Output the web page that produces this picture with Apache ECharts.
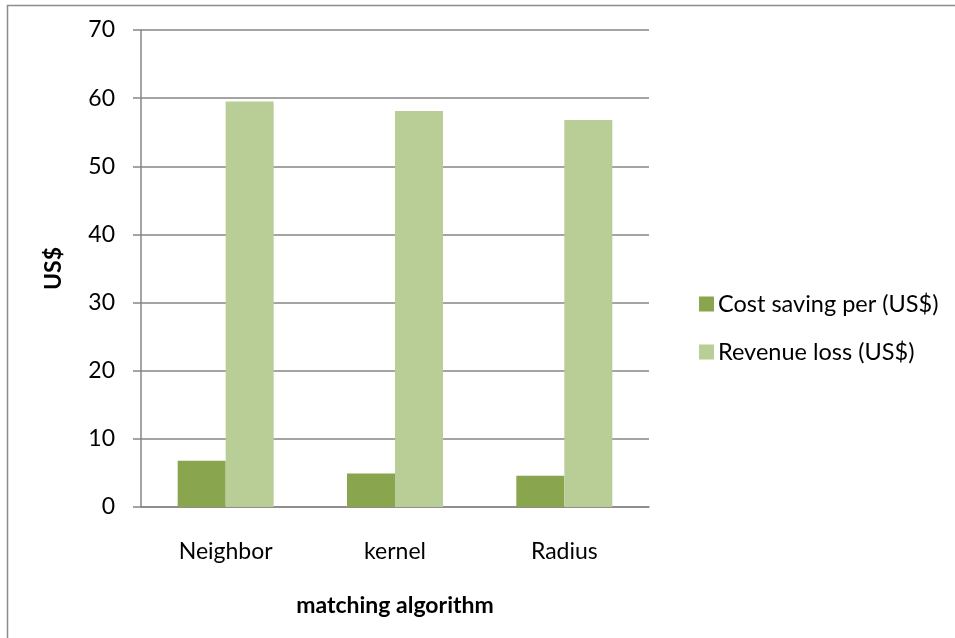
<!DOCTYPE html>
<html>
<head>
<meta charset="utf-8">
<script src="https://cdn.jsdelivr.net/npm/echarts@6/dist/echarts.min.js"></script>
<style>
  html, body { margin: 0; padding: 0; background: #ffffff; }
  #chart { width: 955px; height: 638px; }
</style>
</head>
<body>
<div id="chart"></div>
<script>
// Matching algorithms compared on cost saving and revenue loss
const categories = ['Neighbor', 'kernel', 'Radius'];
const costSaving = [6.8, 4.9, 4.6];
const revenueLoss = [59.5, 58.1, 56.8];
const seriesNames = ['Cost saving per (US$)', 'Revenue loss (US$)'];
const yTicks = { min: 0, max: 70, interval: 10 };

const FONT = 'Lato, "Open Sans", sans-serif';
const FONT_SIZE = 23;
const GRID_COLOR = '#868686';

const chart = echarts.init(document.getElementById('chart'), null, { renderer: 'canvas' });

chart.setOption({
  backgroundColor: '#ffffff',
  animation: false,
  graphic: [
    {
      type: 'rect',
      shape: { x: 7.5, y: 5.5, width: 1000, height: 700 },
      style: { fill: 'none', stroke: '#8c8c8c', lineWidth: 1.5 },
      silent: true,
      z: 0
    }
  ],
  grid: { left: 141, right: 306, top: 30, bottom: 131, containLabel: false },
  legend: {
    orient: 'vertical',
    left: 694,
    top: 287,
    itemWidth: 15,
    itemHeight: 15,
    itemGap: 24,
    icon: 'rect',
    textStyle: { fontFamily: FONT, fontSize: 23.5, color: '#000000', padding: [0, 0, 0, -1] },
    data: seriesNames
  },
  xAxis: {
    type: 'category',
    data: categories,
    name: 'matching algorithm',
    nameLocation: 'middle',
    nameGap: 87,
    nameTextStyle: { fontFamily: FONT, fontSize: FONT_SIZE, fontWeight: 'bold', color: '#000000' },
    axisLine: { show: true, lineStyle: { color: GRID_COLOR, width: 1.5 } },
    axisTick: { show: false },
    axisLabel: { fontFamily: FONT, fontSize: FONT_SIZE, color: '#000000', margin: 33 },
    splitLine: { show: false }
  },
  yAxis: {
    type: 'value',
    min: yTicks.min,
    max: yTicks.max,
    interval: yTicks.interval,
    name: 'US$',
    nameLocation: 'middle',
    nameGap: 76,
    nameRotate: 90,
    nameTextStyle: { fontFamily: FONT, fontSize: FONT_SIZE, fontWeight: 'bold', color: '#000000' },
    axisLine: { show: true, lineStyle: { color: GRID_COLOR, width: 1.5 } },
    axisTick: { show: true, length: 8, lineStyle: { color: GRID_COLOR, width: 1.5 } },
    axisLabel: { fontFamily: FONT, fontSize: FONT_SIZE, color: '#000000', margin: 26 },
    splitLine: { show: true, lineStyle: { color: GRID_COLOR, width: 1.5 } }
  },
  series: [
    {
      name: seriesNames[0],
      type: 'bar',
      data: costSaving,
      barWidth: 48,
      barGap: '0%',
      itemStyle: { color: '#89a54e' }
    },
    {
      name: seriesNames[1],
      type: 'bar',
      data: revenueLoss,
      barWidth: 48,
      barGap: '0%',
      itemStyle: { color: '#b9cd96' }
    }
  ]
});
</script>
</body>
</html>
